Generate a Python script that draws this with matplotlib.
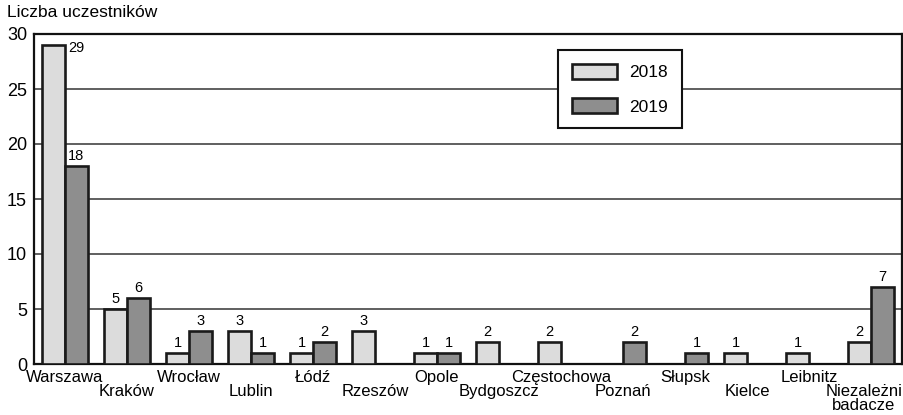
import matplotlib.pyplot as plt
from matplotlib.transforms import blended_transform_factory, offset_copy
import numpy as np

plt.rcParams['font.family'] = ['Liberation Sans', 'DejaVu Sans']

# data
categories = ["Warszawa", "Kraków", "Wrocław", "Lublin", "Łódź", "Rzeszów", "Opole",
              "Bydgoszcz", "Częstochowa", "Poznań", "Słupsk", "Kielce", "Leibnitz",
              "Niezależni\nbadacze"]
v2018 = [29, 5, 1, 3, 1, 3, 1, 2, 2, 0, 0, 1, 1, 2]
v2019 = [18, 6, 3, 1, 2, 0, 1, 0, 0, 2, 1, 0, 0, 7]
series = [("2018", v2018, "#dcdcdc"), ("2019", v2019, "#8e8e8e")]

fig = plt.figure(figsize=(9.04, 4.15), dpi=100)
ax = fig.add_axes([34 / 904, 51 / 415, 868 / 904, 330 / 415])

x = np.arange(len(categories))
w = 0.37
num_font = dict(family='Liberation Sans', fontsize=10.5)

for k, (name, vals, col) in enumerate(series):
    off = (k - 0.5) * w
    vals = np.array(vals, dtype=float)
    mask = vals > 0
    ax.bar(x[mask] + off, vals[mask], width=w, color=col, edgecolor="#1a1a1a",
           linewidth=1.9, zorder=3, label=name)
    for xi, v in zip(x[mask] + off, vals[mask]):
        if v >= 29:
            ax.text(xi + w / 2 + 0.05, v + 0.4, f"{int(v)}", ha="left", va="top", **num_font)
        else:
            ax.text(xi, v + 0.3, f"{int(v)}", ha="center", va="bottom", **num_font)

ax.set_xlim(-0.5, len(categories) - 0.5)
ax.set_ylim(0, 30)
ax.set_yticks([0, 5, 10, 15, 20, 25, 30])
ax.tick_params(axis="y", length=0, pad=5, labelsize=13)
ax.set_xticks([])
ax.yaxis.grid(True, color="#444444", linewidth=1.2, zorder=0)
for s in ax.spines.values():
    s.set_color("#111111")
    s.set_linewidth(1.6)

# category labels, alternating rows
trans = blended_transform_factory(ax.transData, ax.transAxes)
for i, c in enumerate(categories):
    dy = -6 if i % 2 == 0 else -20
    dx = -7 if "\n" in c else 0
    t = offset_copy(trans, fig=fig, x=dx, y=dy, units="dots")
    ax.text(i, 0, c, transform=t, ha="center", va="top", fontsize=12,
            linespacing=0.9, clip_on=False)

fig.text(7 / 904, 1 - 5 / 415, "Liczba uczestników", ha="left", va="top", fontsize=12.5)

leg = ax.legend(loc="center", bbox_to_anchor=(0.675, 0.833), fontsize=12.5,
                handlelength=2.6, handleheight=1.0, labelspacing=1.0,
                borderpad=0.8, handletextpad=0.7, borderaxespad=0,
                fancybox=False, framealpha=1, edgecolor="#111111")
leg.get_frame().set_linewidth(1.5)

fig.savefig("out.png", dpi=100)
